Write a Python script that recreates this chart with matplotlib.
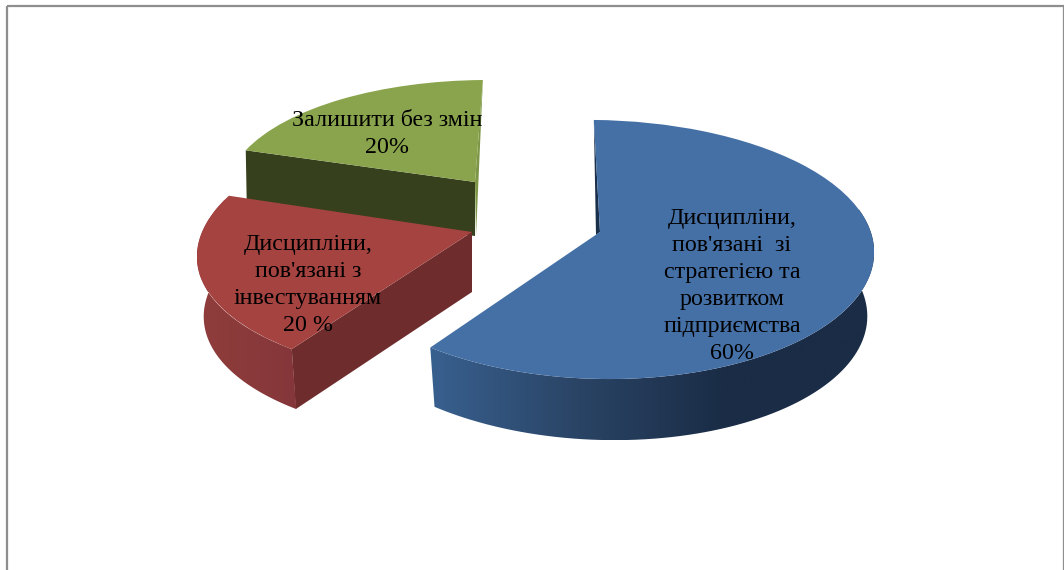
import numpy as np
import matplotlib
matplotlib.use("Agg")
import matplotlib.pyplot as plt
from matplotlib.colors import LinearSegmentedColormap
from matplotlib.patches import Polygon, Rectangle
from matplotlib.transforms import Transform

values = [60, 20, 20]
labels = ["Дисципліни,\nпов'язані  зі\nстратегією та\nрозвитком\nпідприємства\n60%",
          "Дисципліни,\nпов'язані з\nінвестуванням\n20 %",
          "Залишити без змін\n20%"]
top_colors = ["#4570a6", "#a54341", "#89a44d"]
cut_colors = ["#1a2f4a", "#6e2d2c", "#37401c"]

# look of each slice: apex, half width, back and front height, narrowing, lean, tilt
centers = [(600, 232), (472, 232), (475, 182)]
half_w = [272, 270, 247]
back_h = [112, 112, 102]
front_h = [147, 146, 120]
narrow = [0.12, 0.20, 0.05]
lean = [-2, 0, 12]
tilt = [4, 0, 0]
depth = [61, 60, 54]
grow = [3, 0, 0]
side_range = [(-125, 12), (-195, -125), None]
side_grad = [["#38608f", "#2a4465", "#1a2c46", "#1a2c46"],
             ["#8f3d3c", "#8a3a3a", "#85363a"],
             None]
label_xy = [(732, 286), (308, 285), (387, 134)]
low_scale = 0.975


def project(x, y, i):
    bm = (back_h[i] + front_h[i]) / 2
    d = (front_h[i] - back_h[i]) / 2
    px = centers[i][0] + half_w[i] * x * (1 - narrow[i] * y) + lean[i] * y
    py = centers[i][1] - (bm * y - d * y * y) + tilt[i] * x
    return px, py


class SliceTransform(Transform):
    input_dims = 2
    output_dims = 2

    def __init__(self, i):
        super().__init__()
        self.i = i

    def transform_non_affine(self, values):
        px, py = project(values[:, 0], values[:, 1], self.i)
        return np.column_stack([px, py])


def rim(t1, t2, i, low=False):
    t = np.radians(np.linspace(t1, t2, 80))
    px, py = project(np.cos(t), np.sin(t), i)
    if low:
        px = centers[i][0] + (px - centers[i][0]) * low_scale
        py = py + depth[i] + grow[i] * np.cos(t)
    return np.column_stack([px, py])


fig = plt.figure(figsize=(10.64, 5.70), dpi=100)
ax = fig.add_axes([0, 0, 1, 1])

wedges, _ = ax.pie(values, colors=top_colors, startangle=91, counterclock=False)
order = {0: 20, 1: 10, 2: 1}

for i, w in enumerate(wedges):
    w.set_transform(SliceTransform(i) + ax.transData)
    w.set_zorder(order[i] + 3)
    w.set_linewidth(0)

    # clockwise pie: theta1 is the far end of the slice
    a1, a2 = w.theta1, w.theta2
    apex = np.array(centers[i], dtype=float)
    drop = apex + [0, depth[i]]

    # flat cut faces
    if i == 0:
        edge = rim(a2, a2, i)[0]
        ax.add_patch(Polygon([edge, apex + [-4, 3], apex], color=cut_colors[0], lw=0, zorder=order[i] + 2))
    if i == 1:
        edge = rim(a2, a2, i)[0]
        ax.add_patch(Polygon([apex, edge, edge + [4, depth[i]], drop], color=cut_colors[1], lw=0, zorder=order[i] + 1))
    if i == 2:
        e1 = rim(a2, a2, i)[0]
        ax.add_patch(Polygon([apex, e1, e1 + [1, depth[i]], drop], color=cut_colors[2], lw=0, zorder=order[i] + 1))
        e2 = rim(a1, a1, i)[0]
        ax.add_patch(Polygon([e2, apex, drop + [1, 0]], color="#7d9645", lw=0, zorder=order[i] + 2))

    # curved side with gradient
    if side_range[i] is not None:
        lo, hi = side_range[i]
        up = rim(lo, hi, i)
        dn = rim(lo, hi, i, low=True)
        poly = Polygon(np.vstack([up, dn[::-1]]), transform=ax.transData, facecolor="none", lw=0)
        ax.add_patch(poly)
        cmap = LinearSegmentedColormap.from_list("side%d" % i, side_grad[i])
        xs = np.vstack([up, dn])
        im = ax.imshow(np.linspace(0, 1, 256)[None, :], cmap=cmap, aspect="auto",
                       extent=(xs[:, 0].min(), xs[:, 0].max(), xs[:, 1].max(), xs[:, 1].min()),
                       zorder=order[i] + 2)
        im.set_clip_path(poly)

for lab, (x, y) in zip(labels, label_xy):
    ax.text(x, y, lab, ha="center", va="center", fontsize=17.3, family="Liberation Serif",
            color="black", linespacing=1.37, zorder=40)

# chart area frame, its bottom edge is cut off by the picture
ax.add_patch(Rectangle((6.5, 5.5), 1057, 600, facecolor="none", edgecolor="#8e8e8e", lw=1.6, zorder=0.5))

ax.set_aspect("auto")
ax.set_xlim(0, 1064)
ax.set_ylim(570, 0)
ax.axis("off")

fig.savefig("out.png", dpi=100)
